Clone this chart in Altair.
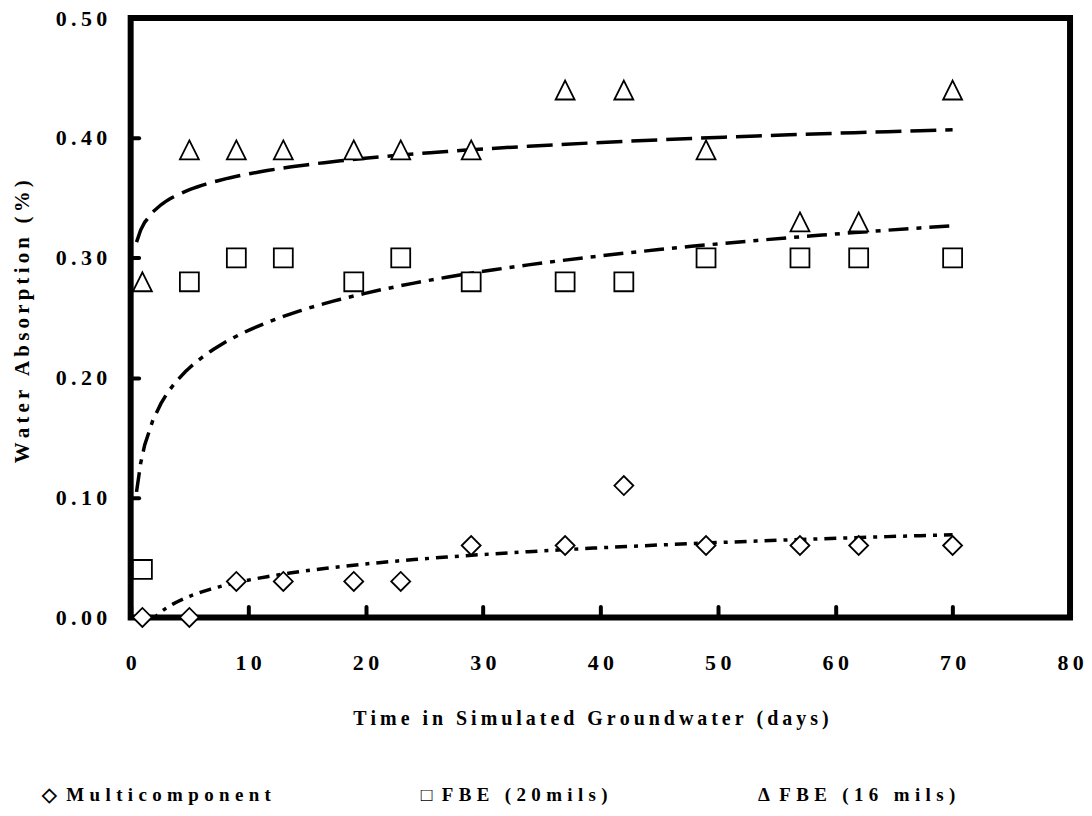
import altair as alt
import pandas as pd

# ---- data ----
days = [1, 5, 9, 13, 19, 23, 29, 37, 42, 49, 57, 62, 70]
multicomponent = [0.00, 0.00, 0.03, 0.03, 0.03, 0.03, 0.06, 0.06, 0.11, 0.06, 0.06, 0.06, 0.06]
fbe_20mils = [0.04, 0.28, 0.30, 0.30, 0.28, 0.30, 0.28, 0.28, 0.28, 0.30, 0.30, 0.30, 0.30]
fbe_16mils = [0.28, 0.39, 0.39, 0.39, 0.39, 0.39, 0.39, 0.44, 0.44, 0.39, 0.33, 0.33, 0.44]
series_names = ["Multicomponent", "FBE (20mils)", "FBE (16 mils)"]
legend_glyphs = ["\u25c7", "\u25a1", "\u0394"]   # ◇ □ Δ as printed in the legend
x_ticks = [0, 10, 20, 30, 40, 50, 60, 70, 80]
y_ticks = [0.0, 0.1, 0.2, 0.3, 0.4, 0.5]

rows = []
for name, vals in zip(series_names, [multicomponent, fbe_20mils, fbe_16mils]):
    for d, v in zip(days, vals):
        rows.append({"series": name, "day": d, "absorption": v})
df = pd.DataFrame(rows)

SP = "\u2009"            # thin space used as letter spacing
SP2 = "\u2009\u200a"     # thin + hair space
NB = "\u00a0"
FONT = "Liberation Serif"


def spaced(s):
    return SP.join(s)


x_axis = alt.Axis(
    values=x_ticks, offset=-11, tickSize=11, tickWidth=4, tickCap="round",
    tickColor="black", domain=False, grid=False,
    labelExpr=f"join(split(format(datum.value, 'd'), ''), '{SP}')",
    labelFont=FONT, labelFontSize=22, labelFontWeight="bold", labelColor="black",
    labelPadding=35, labelFlush=False, labelOverlap=False,
    title=spaced("Time in Simulated Groundwater (days)"),
    titleFont=FONT, titleFontSize=20, titleFontWeight="bold", titleColor="black",
    titleBaseline="middle", titleAlign="center", titleX=461, titleY=112,
)
y_axis = alt.Axis(
    values=y_ticks, offset=-8, tickSize=8, tickWidth=4, tickCap="round",
    tickColor="black", domain=False, grid=False,
    labelExpr=f"join(split(format(datum.value, '.2f'), ''), '{SP}')",
    labelFont=FONT, labelFontSize=22, labelFontWeight="bold", labelColor="black",
    labelPadding=24, labelFlush=False, labelOverlap=False,
    title=spaced("Water Absorption (%)"),
    titleFont=FONT, titleFontSize=21, titleFontWeight="bold", titleColor="black",
    titleAngle=270, titleBaseline="middle", titleAlign="center",
    titleX=-116, titleY=304,
)

x_enc = alt.X("day:Q", scale=alt.Scale(domain=[0, 80], nice=False), axis=x_axis)
y_enc = alt.Y("absorption:Q", scale=alt.Scale(domain=[0, 0.5], nice=False), axis=y_axis)

base = alt.Chart(df)

# log trend lines (fit by Vega's regression transform); dash scale is data-driven
# (sorted: "FBE (16 mils)", "FBE (20mils)", "Multicomponent")
fits = base.transform_regression(
    "day", "absorption", groupby=["series"], method="log", extent=[0.5, 70]
).transform_calculate(
    fit="datum.series"
).mark_line(color="black", strokeWidth=3.5, clip=True).encode(
    x=x_enc,
    y=y_enc,
    strokeDash=alt.StrokeDash(
        "fit:N",
        scale=alt.Scale(range=[[26, 9], [20, 8, 5, 8], [12, 7, 4, 7]]),
        legend=None,
    ),
)

# legend labels: printed glyph + letter-spaced name (+ padding after the first entry)
glyph_cases = " : ".join(
    f"datum.label == '{n}' ? '{g}'" for n, g in zip(series_names, legend_glyphs)
) + " : ''"
legend_label = (
    f"({glyph_cases}) + '{NB * 2}' + join(split(datum.label, ''), '{SP2}') + "
    f"(datum.label == 'Multicomponent' ? '{NB * 7}' : '')"
)

points = base.mark_point(
    filled=False, fill="white", color="black", stroke="black",
    strokeWidth=1.8, size=361, opacity=1, fillOpacity=1,
).encode(
    x=x_enc,
    y=y_enc,
    shape=alt.Shape(
        "series:N",
        scale=alt.Scale(domain=series_names, range=["diamond", "square", "M0,-1L1,1L-1,1Z"]),
        legend=alt.Legend(
            title=None, orient="none", legendX=-108, legendY=769, direction="horizontal",
            symbolSize=1, symbolOpacity=0, symbolStrokeWidth=0,
            labelFont=FONT, labelFontSize=19,
            labelFontWeight="bold", labelColor="black", labelOffset=0, labelLimit=600,
            columnPadding=131, gridAlign="each",
            labelExpr=legend_label,
        ),
    ),
)

chart = alt.layer(fits, points).properties(
    width=942, height=601,
    padding={"left": 123, "top": 9, "right": 14, "bottom": 190},
    autosize=alt.AutoSizeParams(type="none"),
).configure_view(stroke="black", strokeWidth=6)

chart.save("out.html", embed_options={"renderer": "svg", "actions": False})
